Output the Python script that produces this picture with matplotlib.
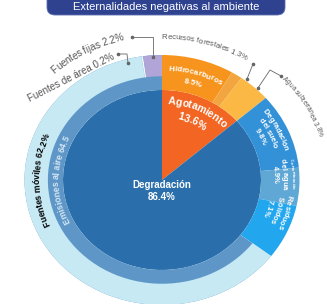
import matplotlib
matplotlib.use("Agg")
import matplotlib.pyplot as plt
from matplotlib.patches import FancyBboxPatch
from matplotlib.font_manager import FontProperties
from matplotlib.textpath import TextToPath
import numpy as np

FAM = ['Liberation Sans', 'DejaVu Sans']
plt.rcParams['font.family'] = FAM

# ---------------- data ----------------
title = "Externalidades negativas al ambiente"

inner_labels = ["Agotamiento", "Degradación"]
inner_values = [13.6, 86.4]

agot_labels = ["Hidrocarburos", "Recursos forestales", "Agua subterránea"]
agot_values = [8.5, 1.3, 3.8]

degr_labels = ["Degradación del suelo", "Contaminación del agua", "Residuos sólidos", "Emisiones al aire"]
degr_values = [9.8, 4.9, 7.1, 64.5]

air_labels = ["Fuentes móviles", "Fuentes de área", "Fuentes fijas"]
air_values = [62.2, 0.2, 2.2]

# ---------------- styles ----------------
inner_colors = ["#f26522", "#2a6fab"]
agot_colors = ["#f7941d", "#f3a640", "#fbb844"]
degr_colors = ["#3391d8", "#5fa8d6", "#22a7ef", "#5e97c7"]
air_colors = ["#c6e9f4", "#eef8fc", "#b1a5d7"]

DPI = 100
fig = plt.figure(figsize=(3.27, 3.04), dpi=DPI)
ax = fig.add_axes([0, 0, 1, 1])
t2p = TextToPath()

CX, CY, SX, SY = 162, 180, 137.5, 125


def P(px, py):
    return ((px - CX) / SX, (CY - py) / SY)


R_IN, R_MID, R_OUT = 0.72, 0.83, 1.0
common = dict(startangle=90, counterclock=False)

ax.pie(inner_values, radius=R_IN, colors=inner_colors,
       wedgeprops=dict(linewidth=0), **common)
ax.pie(agot_values + degr_values, radius=R_OUT, colors=agot_colors + degr_colors,
       wedgeprops=dict(width=R_OUT - R_IN, linewidth=0), **common)
gap = sum(agot_values) + sum(degr_values[:3])
ax.pie([gap] + air_values, radius=R_OUT, colors=["none"] + air_colors,
       wedgeprops=dict(width=R_OUT - R_MID, linewidth=0), **common)

ax.set_aspect('auto')
ax.set_xlim(P(0, 0)[0], P(327, 0)[0])
ax.set_ylim(P(0, 304)[1], P(0, 0)[1])
ax.axis('off')


def tw(s, fp):
    if not s:
        return 0.0
    s2 = s.replace(" ", "\u00a0") + "|"
    w = t2p.get_text_width_height_descent(s2, fp, ismath=False)[0]
    wbar = t2p.get_text_width_height_descent("|", fp, ismath=False)[0]
    return (w - wbar) * DPI / 72.0


def arc_text(s, a_mid, r, fontsize, color="white", weight="bold"):
    """Text laid along the (stretched) circle, reading clockwise."""
    fp = FontProperties(family=FAM, size=fontsize, weight=weight)
    total = tw(s, fp)
    aa = np.radians(np.linspace(a_mid - 180, a_mid + 180, 7201))
    xs = SX * r * np.sin(aa)
    ys = SY * r * np.cos(aa)
    s_cum = np.concatenate([[0], np.cumsum(np.hypot(np.diff(xs), np.diff(ys)))])
    s_mid = np.interp(np.radians(a_mid), aa, s_cum)
    for i, ch in enumerate(s):
        if ch == " ":
            continue
        off = (tw(s[:i], fp) + tw(s[:i + 1], fp)) / 2 - total / 2
        a = np.interp(s_mid + off, s_cum, aa)
        rot = np.degrees(np.arctan2(-SY * np.sin(a), SX * np.cos(a)))
        ax.text(r * np.sin(a), r * np.cos(a), ch, rotation=rot,
                rotation_mode="anchor", ha="center", va="center_baseline",
                fontproperties=fp, color=color)


# labels inside the rings
arc_text(agot_labels[0], 16, 0.895, 5.8)
arc_text(f"{agot_values[0]}%", 16, 0.815, 5.8)
arc_text(inner_labels[0], 25, 0.64, 7.5)
arc_text(f"{inner_values[0]}%", 25, 0.53, 7.5)
ax.text(*P(162, 191), f"{inner_labels[1]}\n{inner_values[1]}%",
        fontsize=7, linespacing=1.3, color="white", fontweight="bold",
        ha="center", va="center")
arc_text("Degradación", 64, 0.935, 5.5)
arc_text("del suelo", 64, 0.87, 5.5)
arc_text(f"{degr_values[0]}%", 64, 0.805, 5.5)
arc_text("Contaminación", 87, 0.955, 3)
arc_text("del agua", 87, 0.895, 5.5)
arc_text(f"{degr_values[1]}%", 87, 0.83, 5.5)
arc_text("Residuos", 106, 0.94, 5.6)
arc_text("Sólidos", 106, 0.875, 5.6)
arc_text(f"{degr_values[2]}%", 106, 0.81, 5.6)
arc_text(f"{degr_labels[3]} {degr_values[3]}", 270, 0.775, 6.3, color="#d6e6f4")
arc_text(f"{air_labels[0]} {air_values[0]}%", 270, 0.915, 6.3, color="black")

# outer labels
arc_text(f"{air_labels[2]} {air_values[2]}%", -28, 1.185, 7, color="#555555", weight="normal")
ax.text(*P(71, 78), f"{air_labels[1]} {air_values[1]}%", fontsize=7, rotation=27,
        color="#555555", ha="center", va="center")
arc_text(f"{agot_labels[1]} {agot_values[1]}%", 16, 1.15, 5.6, color="#555555", weight="normal")
arc_text(f"{agot_labels[2]} {agot_values[2]}%", 60, 1.21, 4.8, color="#555555", weight="normal")


def leader(pts):
    xy = np.array([P(*p) for p in pts])
    ax.plot(xy[:, 0], xy[:, 1], color="#666666", lw=0.6)
    ax.plot([xy[0, 0], xy[-1, 0]], [xy[0, 1], xy[-1, 1]], ls="none",
            marker="o", ms=1.6, color="#666666")


leader([(132, 37), (153, 37), (153, 57)])
leader([(118, 54), (127, 54), (128, 63)])
leader([(253, 64), (247, 79)])
leader([(281, 76), (270, 70), (258, 88)])

# title banner
box = FancyBboxPatch((47 / 327, 1 - 15 / 304), (285 - 47) / 327, 25 / 304,
                     boxstyle="round,pad=0,rounding_size=0.025",
                     transform=fig.transFigure, facecolor="#2f4290",
                     edgecolor="#5a6db0", linewidth=0.6, clip_on=False)
fig.patches.append(box)
fig.text(166 / 327, 1 - 7.5 / 304, title, color="white", fontsize=8,
         ha="center", va="center")

fig.savefig("out.png", dpi=100)
